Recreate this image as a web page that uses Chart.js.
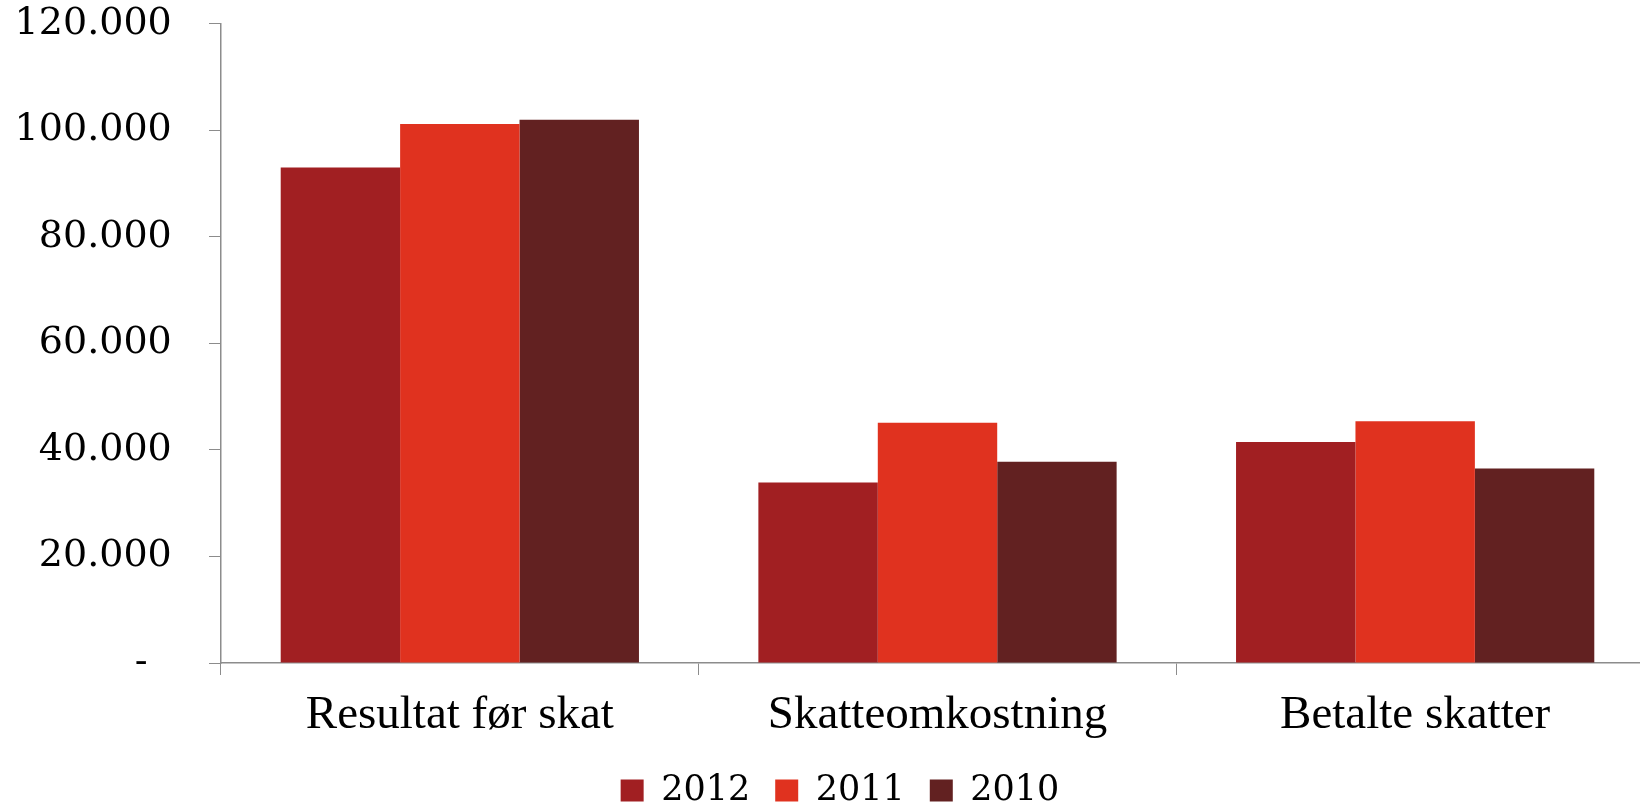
<!DOCTYPE html>
<html>
<head>
<meta charset="utf-8">
<script src="https://cdn.jsdelivr.net/npm/chart.js@4/dist/chart.umd.min.js"></script>
<style>
  html, body { margin: 0; padding: 0; background: #fff; overflow: hidden; }
  #wrap { width: 1680px; height: 804px; }
</style>
</head>
<body>
<div id="wrap"><canvas id="tax-chart" width="1680" height="804"></canvas></div>
<script>
// values (in thousands shown as 20.000 etc)
const categories = ["Resultat før skat", "Skatteomkostning", "Betalte skatter"];
const years = ["2012", "2011", "2010"];
const values2012 = [93000, 33900, 41500];
const values2011 = [101200, 45100, 45400];
const values2010 = [102000, 37800, 36500];
const yMin = 0;
const yMax = 120000;
const yStep = 20000;

const colors = ["#a11f22", "#e0321f", "#622121"];
const axisColor = "#8c8c8c";

// trailing spaces push the right-aligned labels away from the ticks
function formatTick(v) {
    if (v === 0) return "-     ";
    return (v / 1000) + ".000   ";
}

// the plot runs past the right edge, so nudge the legend back to the page centre
const legendShift = {
    id: "legendShift",
    afterLayout(chart) {
        const lg = chart.legend;
        lg.left += 13;
        lg.right += 13;
        const h = lg.bottom - lg.top;
        lg.top = 748;
        lg.bottom = 748 + h;
    }
};

const ctx = document.getElementById("tax-chart").getContext("2d");
new Chart(ctx, {
    type: "bar",
    data: {
        labels: categories,
        datasets: [
            { label: years[0], data: values2012, backgroundColor: colors[0] },
            { label: years[1], data: values2011, backgroundColor: colors[1] },
            { label: years[2], data: values2010, backgroundColor: colors[2] }
        ]
    },
    plugins: [legendShift],
    options: {
        responsive: false,
        animation: false,
        datasets: {
            bar: { categoryPercentage: 0.75, barPercentage: 1.0, borderWidth: 0 }
        },
        layout: { padding: { top: 0, right: 26, left: 0, bottom: 0 } },
        plugins: {
            tooltip: { enabled: false },
            legend: {
                position: "bottom",
                maxHeight: 57,
                labels: {
                    color: "#000",
                    font: { family: "DejaVu Serif", size: 35 },
                    boxWidth: 23,
                    boxHeight: 22,
                    padding: 25
                }
            }
        },
        scales: {
            x: {
                grid: {
                    offset: true,
                    drawOnChartArea: false,
                    color: axisColor,
                    tickLength: 12
                },
                border: { color: axisColor, width: 1.5 },
                ticks: {
                    color: "#000",
                    font: { family: "Liberation Serif", size: 47 },
                    padding: 12
                },
                afterFit: function (axis) { axis.height = 84; }
            },
            y: {
                min: yMin,
                max: yMax,
                ticks: {
                    stepSize: yStep,
                    color: "#000",
                    font: { family: "DejaVu Serif", size: 38 },
                    padding: 1,
                    callback: formatTick
                },
                grid: {
                    drawOnChartArea: false,
                    color: axisColor,
                    tickLength: 12
                },
                border: { color: axisColor, width: 1.5 },
                afterFit: function (axis) { axis.width = 221; }
            }
        }
    }
});
</script>
</body>
</html>
